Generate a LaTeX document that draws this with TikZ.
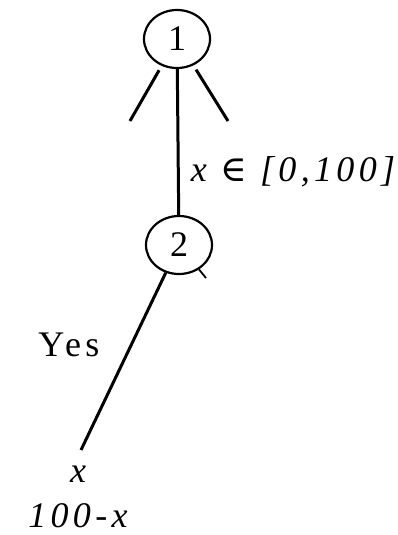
\documentclass[tikz,border=0pt]{standalone}
\usepackage{fontspec}
\setmainfont{Liberation Serif}
\newfontfamily\spaced[LetterSpace=12]{Liberation Serif}
\newfontfamily\symfont{DejaVu Serif}
\usetikzlibrary{positioning,shapes.geometric}

\begin{document}
\begin{tikzpicture}[
  x=1pt, y=-1pt,
  state/.style={draw, ellipse, line width=2.2pt, minimum width=66pt, minimum height=58pt, inner sep=0pt, font=\fontsize{36}{36}\selectfont},
  branch/.style={line width=3pt},
  lbl/.style={inner sep=0pt, font=\fontsize{36}{36}\selectfont\spaced}
]
\useasboundingbox (0,0) rectangle (397,535);

\node[state] (one) at (177,39) {1};
\node[state] (two) at (179,245) {2};
\coordinate (left) at (130,121);
\coordinate (right) at (228,121);
\coordinate (leaf) at (81,450);
\coordinate (tick) at (206,278);

\node[lbl] (range) at (293,172) {\itshape x {\symfont\upshape∈} [0,100]};
\node[lbl] (yes) at (69,345) {Yes};
\node[lbl] (payone) at (78,474) {\itshape x};
\node[lbl] (paytwo) at (78,516) {\itshape 100-x};

\draw[branch] (one) -- (two);
\draw[branch, shorten <=5pt] (one) -- (left);
\draw[branch, shorten <=5pt] (one) -- (right);
\draw[branch] (two) -- (leaf);
\draw[line width=1.8pt] (two) -- (tick);
\end{tikzpicture}
\end{document}
